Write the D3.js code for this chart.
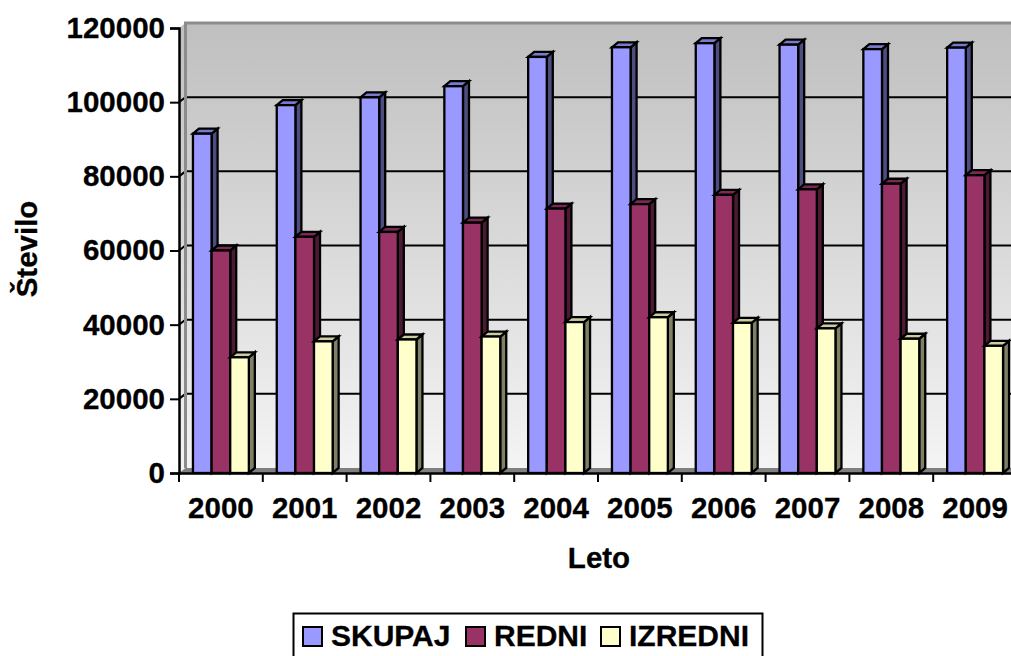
<!DOCTYPE html>
<html>
<head>
<meta charset="utf-8">
<script src="https://cdn.jsdelivr.net/npm/d3@7"></script>
<style>
    html, body { margin: 0; padding: 0; background: #fff; overflow: hidden; }
    text { font-family: "Liberation Sans", Arial, sans-serif; font-weight: bold; fill: #000; stroke: #000; stroke-width: 0.3px; }
</style>
</head>
<body>
<div id="chart"></div>
<script>
'use strict'

const years = ['2000', '2001', '2002', '2003', '2004', '2005', '2006', '2007', '2008', '2009']
const skupaj = [91500, 99200, 101300, 104300, 112200, 114800, 115900, 115500, 114300, 114700]
const redni = [60000, 63700, 65000, 67500, 71300, 72500, 75000, 76500, 78000, 80300]
const izredni = [31200, 35500, 36000, 36800, 40700, 42000, 40500, 39000, 36200, 34300]
const seriesNames = ['SKUPAJ', 'REDNI', 'IZREDNI']
const yTicks = [0, 20000, 40000, 60000, 80000, 100000, 120000]

const seriesValues = [skupaj, redni, izredni]
const fronts = ['#9999ff', '#993366', '#ffffcc']
const tops = ['#7a7acc', '#7a2952', '#cccca3']
const sides = ['#4d4d80', '#4d1a33', '#808066']

const svgWidth = 1011, svgHeight = 656
const margin = { left: 179, top: 28, bottom: 183 }
const dx = 6.5, dy = 5      // 3d depth offset of the back wall
const barDx = 6, barDy = 5
const fontSize = '29.5px'

const innerW = 838
const innerH = svgHeight - margin.top - margin.bottom

const svg = d3.select('#chart')
    .append('svg')
    .attr('width', svgWidth)
    .attr('height', svgHeight)
    .attr('viewBox', `0 0 ${svgWidth} ${svgHeight}`)
    .style('display', 'block')

const defs = svg.append('defs')
const wallGrad = defs.append('linearGradient')
    .attr('id', 'wall').attr('x1', 0).attr('y1', 0).attr('x2', 0).attr('y2', 1)
wallGrad.append('stop').attr('offset', 0).attr('stop-color', '#bfbfbf')
wallGrad.append('stop').attr('offset', 1).attr('stop-color', '#f4f4f4')

const g = svg.append('g').attr('transform', `translate(${margin.left},${margin.top})`)

const x = d3.scaleBand().domain(years).range([0, innerW])
const y = d3.scaleLinear().domain([0, 120000]).range([innerH, 0])

// back wall
g.append('rect')
    .attr('x', dx).attr('y', y(120000) - dy)
    .attr('width', innerW).attr('height', innerH)
    .attr('fill', 'url(#wall)')

// side wall
g.append('polygon')
    .attr('points', [[0, y(120000)], [dx, y(120000) - dy], [dx, y(0) - dy], [0, y(0)]].join(' '))
    .attr('fill', 'url(#wall)')

// floor
g.append('polygon')
    .attr('points', [[0, y(0)], [dx, y(0) - dy], [innerW + dx, y(0) - dy], [innerW, y(0)]].join(' '))
    .attr('fill', '#808080')

// grid lines, with the little kink on the side wall
yTicks.filter(d => d > 0 && d < 120000).forEach(d => {
    g.append('polyline')
        .attr('points', [[0, y(d)], [dx, y(d) - dy], [innerW + dx, y(d) - dy]].join(' '))
        .attr('fill', 'none').attr('stroke', '#000').attr('stroke-width', 2)
})

// grey rim of the back wall, over the grid lines
g.append('polyline')
    .attr('points', [[dx, y(0) - dy], [dx, y(120000) - dy], [innerW + dx, y(120000) - dy]].join(' '))
    .attr('fill', 'none').attr('stroke', '#8c8c8c').attr('stroke-width', 3)

// bars
const groupPad = 0.1665
const barW = x.bandwidth() * (1 - 2 * groupPad) / 3
const barOffset = i => x.bandwidth() * groupPad + barW * i

years.forEach((yr, k) => {
    const cat = g.append('g').attr('class', 'cat')
    seriesValues.forEach((vals, i) => {
        const x0 = x(yr) + barOffset(i), x1 = x0 + barW
        const yTop = y(vals[k]), yBase = y(0)
        cat.append('polygon')
            .attr('points', [[x1, yTop], [x1 + barDx, yTop - barDy], [x1 + barDx, yBase - barDy], [x1, yBase]].join(' '))
            .attr('fill', sides[i]).attr('stroke', '#000').attr('stroke-width', 2.3)
        cat.append('polygon')
            .attr('points', [[x0, yTop], [x0 + barDx, yTop - barDy], [x1 + barDx, yTop - barDy], [x1, yTop]].join(' '))
            .attr('fill', tops[i]).attr('stroke', '#000').attr('stroke-width', 2.3)
        cat.append('rect')
            .attr('x', x0).attr('y', yTop)
            .attr('width', barW).attr('height', yBase - yTop)
            .attr('fill', fronts[i]).attr('stroke', '#000').attr('stroke-width', 2.3)
    })
})

// axes
const yAxis = d3.axisLeft(y).tickValues(yTicks).tickFormat(d3.format('d')).tickSize(9).tickPadding(5)
const gy = g.append('g').call(yAxis)
gy.selectAll('.domain').attr('stroke-width', 2.5)
gy.selectAll('.tick line').attr('stroke-width', 2)
gy.selectAll('text').style('font-size', fontSize).style('font-family', '"Liberation Sans"')

const xAxis = d3.axisBottom(x).tickSize(0).tickPadding(24)
const gx = g.append('g').attr('transform', `translate(0,${innerH})`).call(xAxis)
gx.selectAll('.domain').attr('stroke-width', 2.5)
gx.selectAll('text').style('font-size', fontSize).style('font-family', '"Liberation Sans"')
gx.selectAll('.edge')
    .data(d3.range(years.length + 1))
    .join('line')
    .attr('class', 'edge')
    .attr('x1', d => d * x.step()).attr('x2', d => d * x.step())
    .attr('y1', 0).attr('y2', 9)
    .attr('stroke', '#000').attr('stroke-width', 2)

// axis titles
svg.append('text')
    .attr('x', 599).attr('y', 568)
    .attr('text-anchor', 'middle')
    .style('font-size', fontSize)
    .text('Leto')

svg.append('text')
    .attr('transform', 'translate(37,249) rotate(-90)')
    .attr('text-anchor', 'middle')
    .style('font-size', fontSize)
    .text('Število')

// legend
const legend = svg.append('g')
legend.append('rect')
    .attr('x', 293.5).attr('y', 613.5)
    .attr('width', 469).attr('height', 60)
    .attr('fill', '#fff').attr('stroke', '#000').attr('stroke-width', 2)

const legendSwatchX = [303, 466, 601]
seriesNames.forEach((name, i) => {
    legend.append('rect')
        .attr('x', legendSwatchX[i]).attr('y', 627)
        .attr('width', 19).attr('height', 19)
        .attr('fill', fronts[i]).attr('stroke', '#000').attr('stroke-width', 2)
    legend.append('text')
        .attr('x', legendSwatchX[i] + 28).attr('y', 646)
        .style('font-size', '30px')
        .text(name)
})
</script>
</body>
</html>
